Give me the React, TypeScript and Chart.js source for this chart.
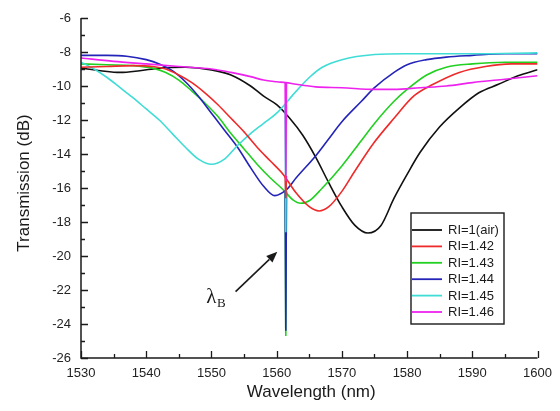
import React, { useEffect, useRef } from "react";
import { Chart, registerables } from "chart.js";

Chart.register(...registerables);

// ---- data (wavelength in nm, transmission in dB) ----
const airWl = [1530, 1533, 1536, 1539, 1542, 1546, 1550, 1553, 1556, 1558, 1560, 1562, 1564, 1566, 1568, 1570, 1572, 1574, 1576, 1578, 1580, 1582, 1585, 1588, 1591, 1594, 1597, 1600];
const airT = [-8.95, -9.1, -9.2, -9.1, -8.95, -8.9, -9.05, -9.35, -10.0, -10.6, -11.1, -11.9, -12.9, -14.2, -15.7, -17.1, -18.2, -18.65, -18.2, -16.6, -15.2, -13.9, -12.4, -11.3, -10.4, -9.9, -9.4, -9.05];

const ri142Wl = [1530, 1534, 1538, 1541, 1543, 1545, 1547, 1549, 1551, 1553, 1555, 1557, 1559, 1561, 1563, 1565, 1566.5, 1568, 1570, 1572, 1575, 1578, 1581, 1584, 1588, 1592, 1596, 1600];
const ri142T = [-8.9, -8.85, -8.8, -8.85, -9.0, -9.35, -9.8, -10.4, -11.1, -11.9, -12.7, -13.6, -14.4, -15.2, -16.3, -17.1, -17.35, -17.1, -16.2, -15.0, -13.3, -11.9, -10.6, -9.9, -9.2, -8.85, -8.7, -8.7];

const ri143Wl = [1530, 1534, 1538, 1541, 1543, 1545, 1547, 1549, 1551, 1553, 1555, 1557, 1559, 1561, 1562.5, 1563.7, 1565, 1567, 1570, 1573, 1575, 1578, 1580, 1583, 1586, 1590, 1595, 1600];
const ri143T = [-8.7, -8.75, -8.8, -8.95, -9.2, -9.65, -10.3, -11.0, -11.8, -12.8, -13.7, -14.6, -15.4, -16.1, -16.7, -16.9, -16.75, -16.0, -14.7, -13.2, -12.2, -10.9, -10.2, -9.35, -8.9, -8.7, -8.6, -8.6];

const ri144Wl = [1530, 1534, 1537, 1540, 1542, 1544, 1546, 1548, 1550, 1552, 1554, 1556, 1558, 1559.7, 1561.5, 1563, 1566, 1568, 1570, 1573, 1575, 1578, 1580, 1583, 1586, 1590, 1595, 1600];
const ri144T = [-8.2, -8.2, -8.25, -8.45, -8.7, -9.1, -9.75, -10.6, -11.6, -12.6, -13.6, -14.8, -15.9, -16.45, -16.1, -15.4, -14.1, -13.1, -12.1, -10.9, -10.1, -9.2, -8.75, -8.45, -8.3, -8.2, -8.1, -8.1];

const ri145Wl = [1530, 1532, 1534, 1536, 1538, 1540, 1542, 1544, 1546, 1548, 1550, 1552, 1554, 1556, 1558, 1560, 1563, 1565, 1567, 1570, 1575, 1580, 1590, 1600];
const ri145T = [-8.6, -9.0, -9.5, -10.1, -10.7, -11.35, -12.0, -12.8, -13.6, -14.3, -14.6, -14.3, -13.5, -12.8, -12.2, -11.6, -10.3, -9.5, -8.9, -8.45, -8.15, -8.1, -8.1, -8.05];

const ri146Wl = [1530, 1535, 1540, 1545, 1550, 1553, 1556, 1558, 1560, 1561.4, 1563, 1566, 1570, 1575, 1578, 1582, 1586, 1590, 1595, 1600];
const ri146T = [-8.35, -8.55, -8.7, -8.85, -9.0, -9.2, -9.45, -9.65, -9.75, -9.8, -9.9, -10.05, -10.1, -10.2, -10.2, -10.1, -10.0, -9.8, -9.6, -9.4];

// narrow Bragg dip (lambda_B) of each spectrum: wavelengths, level at the dip, bottom of the dip
const braggWl = [1561.3, 1561.4, 1561.5];
const braggLevel = [null, -15.3, -16.2, -16.2, -11.15, -9.8];
const braggBottom = [null, -16.6, -24.7, -24.4, -18.6, -15.6];

const seriesLabels = ["RI=1(air)", "RI=1.42", "RI=1.43", "RI=1.44", "RI=1.45", "RI=1.46"];
const seriesColors = ["#111111", "#ee2a2a", "#22d022", "#2424b8", "#40dcd6", "#ee22ee"];
const seriesOrder = [5, 1, 4, 3, 2, 0];
const seriesWl = [airWl, ri142Wl, ri143Wl, ri144Wl, ri145Wl, ri146Wl];
const seriesT = [airT, ri142T, ri143T, ri144T, ri145T, ri146T];

const X_MIN = 1530, X_MAX = 1600, X_STEP = 10;
const Y_MIN = -26, Y_MAX = -6, Y_STEP = 2;

const xTitle = "Wavelength (nm)";
const yTitle = "Transmission (dB)";

// annotation anchor in data units
const lambdaPos = { x: 1549.2, y: -22.75 };
const arrowFrom = { x: 1553.7, y: -22.1 };
const arrowTo = { x: 1560.1, y: -19.75 };

const SANS = "'Liberation Sans', Arial, sans-serif";
const SERIF = "'Liberation Serif', 'Times New Roman', serif";

const decorPlugin = {
  id: "decor",
  afterDraw(chart: any) {
    const ctx = chart.ctx as CanvasRenderingContext2D;
    const xs = chart.scales.x;
    const ys = chart.scales.y;
    const { left, right, top, bottom } = chart.chartArea;
    ctx.save();
    ctx.strokeStyle = "#1a1a1a";
    ctx.lineWidth = 1.5;
    ctx.beginPath();
    ctx.moveTo(left, top);
    ctx.lineTo(left, bottom);
    ctx.lineTo(right, bottom);
    ctx.stroke();

    // inward ticks
    ctx.lineWidth = 1.3;
    ctx.beginPath();
    const nx = Math.round((X_MAX - X_MIN) / 5);
    for (let i = 0; i <= nx; i++) {
      const v = X_MIN + i * 5;
      const px = Math.round(xs.getPixelForValue(v)) + 0.5;
      const len = i % 2 === 0 ? 7 : 4;
      ctx.moveTo(px, bottom);
      ctx.lineTo(px, bottom - len);
    }
    const ny = Y_MAX - Y_MIN;
    for (let i = 0; i <= ny; i++) {
      const v = Y_MIN + i;
      const py = Math.round(ys.getPixelForValue(v)) + 0.5;
      const len = i % 2 === 0 ? 7 : 4;
      ctx.moveTo(left, py);
      ctx.lineTo(left + len, py);
    }
    ctx.stroke();

    // axis titles
    ctx.fillStyle = "#1a1a1a";
    ctx.font = `17px ${SANS}`;
    ctx.textAlign = "center";
    ctx.textBaseline = "middle";
    ctx.fillText(xTitle, (left + right) / 2 + 2, 392);
    ctx.save();
    ctx.translate(24, (top + bottom) / 2 - 5);
    ctx.rotate(-Math.PI / 2);
    ctx.fillText(yTitle, 0, 0);
    ctx.restore();

    // legend box
    const bx = 411, by = 213, bw = 93, bh = 111;
    ctx.fillStyle = "#ffffff";
    ctx.fillRect(bx, by, bw, bh);
    ctx.strokeStyle = "#1a1a1a";
    ctx.lineWidth = 1.4;
    ctx.strokeRect(bx, by, bw, bh);
    ctx.font = `13px ${SANS}`;
    ctx.textAlign = "left";
    ctx.textBaseline = "middle";
    for (let i = 0; i < seriesLabels.length; i++) {
      const yy = by + 17 + i * 16.4;
      ctx.strokeStyle = seriesColors[i];
      ctx.lineWidth = 1.8;
      ctx.beginPath();
      ctx.moveTo(bx + 1, yy);
      ctx.lineTo(bx + 31, yy);
      ctx.stroke();
      ctx.fillStyle = "#1a1a1a";
      ctx.fillText(seriesLabels[i], bx + 37, yy + 0.5);
    }

    // lambda_B annotation
    const lx = xs.getPixelForValue(lambdaPos.x);
    const ly = ys.getPixelForValue(lambdaPos.y);
    ctx.fillStyle = "#1a1a1a";
    ctx.textAlign = "left";
    ctx.textBaseline = "alphabetic";
    ctx.font = `21px ${SERIF}`;
    ctx.fillText("λ", lx, ly);
    const lw = ctx.measureText("λ").width;
    ctx.font = `13px ${SERIF}`;
    ctx.fillText("B", lx + lw + 0.5, ly + 4);

    // arrow
    const ax0 = xs.getPixelForValue(arrowFrom.x), ay0 = ys.getPixelForValue(arrowFrom.y);
    const ax1 = xs.getPixelForValue(arrowTo.x), ay1 = ys.getPixelForValue(arrowTo.y);
    const ang = Math.atan2(ay1 - ay0, ax1 - ax0);
    const hl = 11, hw = 4.5;
    const bxp = ax1 - hl * Math.cos(ang), byp = ay1 - hl * Math.sin(ang);
    ctx.strokeStyle = "#1a1a1a";
    ctx.lineWidth = 1.6;
    ctx.beginPath();
    ctx.moveTo(ax0, ay0);
    ctx.lineTo(bxp, byp);
    ctx.stroke();
    ctx.beginPath();
    ctx.moveTo(ax1, ay1);
    ctx.lineTo(bxp + hw * Math.sin(ang), byp - hw * Math.cos(ang));
    ctx.lineTo(bxp - hw * Math.sin(ang), byp + hw * Math.cos(ang));
    ctx.closePath();
    ctx.fill();
    ctx.restore();
  },
};

export default function App() {
  const ref = useRef<HTMLCanvasElement | null>(null);
  useEffect(() => {
    if (!ref.current) return;
    const datasets: any[] = seriesLabels.map((label, i) => ({
      label,
      data: seriesWl[i].map((x, j) => ({ x, y: seriesT[i][j] })),
      borderColor: seriesColors[i],
      backgroundColor: seriesColors[i],
      borderWidth: 1.6,
      pointRadius: 0,
      fill: false,
      cubicInterpolationMode: "monotone",
      order: seriesOrder[i],
    }));
    seriesLabels.forEach((label, i) => {
      const lvl = braggLevel[i];
      const btm = braggBottom[i];
      if (lvl === null || btm === null) return;
      datasets.push({
        label: label + " dip",
        data: braggWl.map((x, j) => ({ x, y: j === 1 ? btm : lvl })),
        borderColor: seriesColors[i],
        backgroundColor: seriesColors[i],
        borderWidth: 1.6,
        pointRadius: 0,
        fill: false,
        tension: 0,
        order: seriesOrder[i],
      });
    });
    const chart = new Chart(ref.current, {
      type: "line",
      data: { datasets },
      plugins: [decorPlugin],
      options: {
        animation: false,
        responsive: false,
        events: [],
        layout: { padding: { top: 18, right: 15, left: 0, bottom: 0 } },
        plugins: { legend: { display: false }, tooltip: { enabled: false } },
        scales: {
          x: {
            type: "linear",
            min: X_MIN,
            max: X_MAX,
            grid: { display: false, drawTicks: false },
            border: { display: false },
            ticks: {
              stepSize: X_STEP,
              padding: 8,
              color: "#222",
              font: { family: SANS, size: 13 },
              callback: (v: any) => String(v),
            },
            afterFit: (s: any) => { s.height = 53; },
          },
          y: {
            type: "linear",
            min: Y_MIN,
            max: Y_MAX,
            grid: { display: false, drawTicks: false },
            border: { display: false },
            ticks: {
              stepSize: Y_STEP,
              padding: 10,
              color: "#222",
              font: { family: SANS, size: 13 },
              callback: (v: any) => String(v),
            },
            afterFit: (s: any) => { s.width = 81; },
          },
        },
      },
    });
    return () => chart.destroy();
  }, []);
  return (
    <div style={{ position: "fixed", left: 0, top: 0, width: 560, height: 411, background: "#fff" }}>
      <canvas ref={ref} width={560} height={411} style={{ display: "block" }} />
    </div>
  );
}
